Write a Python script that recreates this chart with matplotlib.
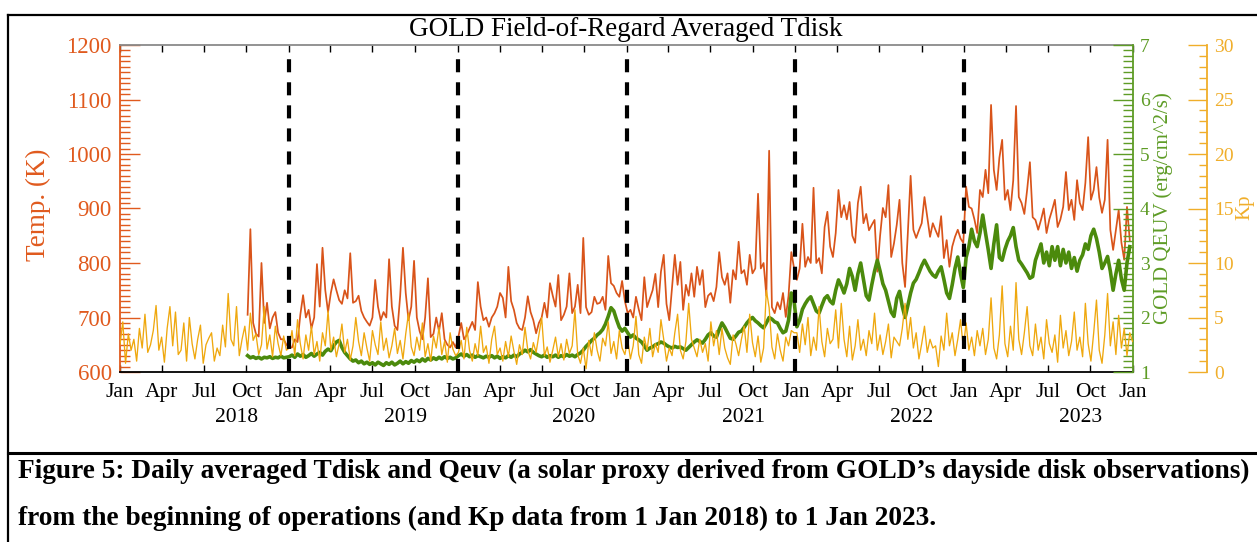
import numpy as np
import pandas as pd
import matplotlib
matplotlib.use("Agg")
import matplotlib.pyplot as plt
import matplotlib.dates as mdates
from matplotlib.ticker import MultipleLocator
from matplotlib.lines import Line2D
from matplotlib.transforms import blended_transform_factory

plt.rcParams['font.family'] = ['Liberation Serif', 'DejaVu Serif']
plt.rcParams['lines.scale_dashes'] = False

# ---------------- data (6-day sampling) ----------------
tdisk_start = "2018-10-04"
tdisk_2018 = [705, 862, 690, 670, 665, 800, 690, 727, 680, 700, 710, 672, 660, 660, 650]
tdisk_2019 = [645, 645, 660, 655, 705, 741, 700, 714, 680, 700, 798, 720, 828, 750, 710, 745, 770, 750, 732, 725,
              750, 735, 818, 727, 730, 740, 712, 700, 692, 685, 700, 769, 720, 695, 710, 700, 807, 720, 685, 677,
              740, 828, 745, 695, 720, 804, 700, 675, 660, 700, 772, 664, 670, 700, 675, 708, 660, 650, 645, 655, 645]
tdisk_2020 = [665, 690, 660, 668, 680, 692, 677, 765, 720, 695, 700, 683, 700, 708, 720, 745, 736, 700, 793, 730,
              714, 690, 680, 677, 700, 739, 710, 695, 671, 690, 700, 727, 700, 763, 740, 720, 778, 695, 705, 720,
              781, 708, 720, 760, 708, 846, 719, 705, 710, 738, 725, 727, 738, 714, 813, 763, 758, 745, 738, 767, 730]
tdisk_2021 = [708, 714, 700, 738, 715, 695, 774, 719, 735, 750, 780, 719, 784, 815, 725, 695, 756, 815, 760, 802,
              714, 760, 740, 781, 738, 793, 760, 787, 719, 740, 745, 730, 756, 820, 774, 760, 781, 727, 787, 770,
              839, 781, 787, 760, 815, 781, 790, 927, 790, 800, 740, 1006, 719, 708, 728, 715, 745, 701, 740, 820, 790]
tdisk_2022 = [769, 790, 872, 793, 811, 800, 938, 800, 809, 781, 866, 894, 830, 811, 855, 934, 884, 906, 880, 912,
              850, 837, 910, 940, 873, 890, 860, 870, 879, 784, 850, 901, 884, 943, 811, 836, 870, 916, 800, 756,
              855, 960, 861, 846, 860, 873, 921, 884, 848, 873, 860, 848, 886, 809, 842, 793, 830, 848, 861, 845, 837]
tdisk_2023 = [940, 903, 900, 880, 855, 934, 921, 971, 928, 1090, 971, 934, 993, 1026, 916, 934, 897, 952, 1088, 921,
              910, 890, 934, 985, 884, 879, 861, 879, 900, 855, 880, 897, 916, 866, 880, 903, 967, 897, 916, 879,
              952, 910, 897, 947, 1031, 916, 934, 976, 920, 892, 916, 1026, 861, 824, 860, 897, 837, 806, 903, 842]

qeuv_2018 = [1.30, 1.26, 1.28, 1.25, 1.27, 1.24, 1.27, 1.26, 1.28, 1.25, 1.27, 1.26, 1.29, 1.26, 1.27]
qeuv_2019 = [1.28, 1.31, 1.27, 1.33, 1.29, 1.32, 1.27, 1.30, 1.34, 1.29, 1.33, 1.36, 1.31, 1.38, 1.42, 1.39, 1.48, 1.55, 1.58, 1.45,
             1.36, 1.30, 1.24, 1.20, 1.22, 1.17, 1.20, 1.15, 1.18, 1.14, 1.17, 1.13, 1.18, 1.15, 1.12, 1.17, 1.14, 1.18, 1.13, 1.16,
             1.20, 1.15, 1.19, 1.16, 1.21, 1.18, 1.22, 1.19, 1.24, 1.20, 1.25, 1.22, 1.26, 1.23, 1.27, 1.24, 1.28, 1.25, 1.27, 1.24, 1.26]
qeuv_2020 = [1.30, 1.33, 1.29, 1.32, 1.28, 1.31, 1.27, 1.30, 1.28, 1.26, 1.29, 1.27, 1.30, 1.26, 1.29, 1.25, 1.28, 1.26, 1.30, 1.27,
             1.31, 1.28, 1.33, 1.36, 1.40, 1.37, 1.41, 1.36, 1.33, 1.30, 1.28, 1.31, 1.27, 1.30, 1.28, 1.31, 1.27, 1.30, 1.28, 1.32,
             1.29, 1.31, 1.28, 1.32, 1.35, 1.40, 1.47, 1.52, 1.58, 1.62, 1.68, 1.72, 1.78, 1.88, 2.02, 2.18, 2.12, 1.96, 1.82, 1.75, 1.80]
qeuv_2021 = [1.72, 1.64, 1.68, 1.62, 1.59, 1.55, 1.48, 1.40, 1.44, 1.46, 1.50, 1.52, 1.55, 1.53, 1.49, 1.46, 1.44, 1.47, 1.45, 1.46,
             1.43, 1.40, 1.45, 1.50, 1.55, 1.59, 1.56, 1.53, 1.60, 1.68, 1.72, 1.66, 1.64, 1.78, 1.90, 1.82, 1.72, 1.62, 1.60, 1.66,
             1.73, 1.75, 1.82, 1.90, 1.96, 2.00, 1.94, 1.90, 1.85, 1.81, 1.90, 2.00, 1.97, 1.92, 1.90, 1.80, 1.72, 1.75, 1.95, 2.45, 2.30]
qeuv_2022 = [1.83, 1.95, 2.15, 2.25, 2.33, 2.38, 2.25, 2.12, 2.08, 2.22, 2.35, 2.40, 2.30, 2.25, 2.50, 2.69, 2.58, 2.45, 2.62, 2.90,
             2.75, 2.50, 2.80, 3.00, 2.70, 2.40, 2.32, 2.60, 2.85, 3.05, 2.85, 2.62, 2.50, 2.30, 2.10, 2.02, 2.35, 2.48, 2.20, 2.00,
             2.22, 2.45, 2.63, 2.70, 2.82, 2.95, 3.05, 2.95, 2.85, 2.78, 2.74, 2.85, 2.93, 2.70, 2.45, 2.35, 2.60, 2.90, 3.11, 2.80, 2.55]
qeuv_2023 = [3.10, 3.30, 3.62, 3.40, 3.30, 3.55, 3.88, 3.55, 3.24, 2.90, 3.35, 3.70, 3.10, 3.05, 3.25, 3.40, 3.50, 3.65, 3.30, 3.05,
             2.98, 2.90, 2.82, 2.72, 2.75, 3.05, 3.20, 3.35, 3.00, 3.20, 2.95, 3.30, 3.05, 3.30, 2.95, 3.25, 3.00, 3.20, 2.90, 3.10,
             2.85, 3.05, 3.15, 3.35, 3.25, 3.50, 3.62, 3.45, 3.20, 2.90, 3.00, 3.12, 2.85, 2.50, 2.80, 3.05, 2.70, 2.50, 3.00, 3.30]

kp_start = "2018-01-01"
kp_2018 = [2.5, 4.6, 0.8, 3.5, 2.0, 3.0, 1.0, 4.0, 2.2, 5.3, 1.8, 2.5, 3.8, 6.1, 2.0, 3.2, 0.9, 4.0, 6.0, 2.4,
           5.5, 1.6, 2.0, 4.5, 1.0, 5.0, 2.6, 1.2, 3.0, 4.3, 0.8, 2.5, 3.1, 3.6, 1.0, 2.2, 1.5, 4.3, 2.3, 7.2,
           3.0, 2.4, 6.0, 1.5, 3.0, 4.2, 2.0, 5.4, 2.9, 3.5, 1.6, 2.5, 6.0, 2.1, 3.4, 1.4, 4.2, 2.6, 1.5, 3.3, 2.0]
kp_2019 = [2.2, 3.8, 1.5, 4.8, 2.6, 1.2, 3.4, 2.0, 4.2, 1.6, 2.8, 1.0, 3.6, 2.4, 5.6, 2.0, 3.2, 1.4, 2.6, 4.4,
           1.8, 3.0, 1.1, 2.4, 5.0, 2.8, 1.5, 3.6, 2.2, 1.0, 3.8, 2.5, 1.6, 4.6, 2.0, 3.1, 1.3, 2.4, 4.0, 1.7,
           2.9, 1.2, 3.5, 5.4, 2.3, 1.5, 3.2, 2.0, 4.5, 1.4, 2.6, 1.0, 3.3, 2.2, 4.1, 1.6, 2.8, 0.9, 3.6, 2.1, 1.5]
kp_2020 = [1.8, 2.9, 1.2, 4.1, 2.0, 1.0, 2.6, 1.5, 4.2, 1.8, 2.4, 0.8, 3.0, 4.2, 1.6, 2.2, 1.0, 2.8, 1.4, 3.3,
           1.9, 0.7, 2.5, 1.6, 4.1, 2.0, 1.2, 2.7, 1.8, 3.4, 5.0, 1.5, 2.3, 0.9, 2.0, 3.2, 1.4, 2.6, 1.1, 3.0,
           1.7, 2.4, 5.7, 1.6, 0.8, 2.2, 0.3, 2.9, 1.5, 3.6, 2.0, 1.0, 3.1, 2.4, 4.6, 1.7, 2.8, 1.2, 3.8, 2.2, 1.6]
kp_2021 = [3.0, 1.2, 2.4, 5.1, 1.6, 0.8, 3.2, 2.0, 4.0, 1.4, 2.6, 1.8, 4.8, 3.0, 1.0, 2.2, 1.5, 3.6, 5.3, 2.0,
           1.2, 2.8, 6.3, 3.0, 2.2, 1.4, 3.0, 1.8, 2.6, 1.0, 4.6, 2.4, 3.8, 1.6, 4.0, 2.2, 1.3, 0.7, 3.4, 2.6,
           1.5, 3.0, 4.2, 1.8, 5.3, 2.7, 1.4, 3.3, 0.9, 2.2, 7.5, 5.9, 2.3, 1.2, 3.5, 2.0, 1.0, 3.2, 2.4, 3.8, 3.6]
kp_2022 = [3.6, 1.8, 4.4, 2.5, 5.0, 1.5, 3.2, 2.0, 6.0, 2.8, 1.4, 4.0, 2.6, 3.0, 5.7, 2.2, 6.3, 3.0, 1.4, 4.2,
           1.1, 2.4, 4.8, 2.0, 3.0, 1.5, 3.8, 2.6, 5.4, 2.0, 3.4, 1.6, 2.8, 4.4, 1.3, 3.2, 2.8, 2.4, 4.0, 6.3,
           3.0, 5.0, 2.2, 3.6, 1.2, 2.6, 4.2, 1.8, 3.0, 2.2, 2.4, 0.5, 3.3, 2.0, 5.4, 2.4, 3.6, 1.5, 3.0, 4.8, 2.2]
kp_2023 = [4.5, 2.0, 3.2, 1.5, 3.8, 2.4, 4.0, 1.6, 3.0, 6.8, 2.2, 1.2, 3.4, 7.9, 2.6, 1.4, 4.2, 2.0, 8.2, 3.0,
           1.6, 3.6, 6.0, 2.4, 1.5, 4.4, 2.0, 3.2, 1.2, 4.8, 2.6, 1.8, 3.4, 0.9, 5.2, 2.2, 3.8, 1.5, 2.8, 5.5,
           2.0, 3.2, 1.4, 6.3, 2.6, 1.0, 3.6, 6.6, 2.0, 0.8, 3.4, 7.2, 2.4, 4.6, 1.6, 5.2, 2.2, 4.0, 1.5, 3.6, 2.8]

boundary_years = [2019, 2020, 2021, 2022, 2023]
year_labels = ["2018", "2019", "2020", "2021", "2022", "2023"]
title = "GOLD Field-of-Regard Averaged Tdisk"
caption1 = "Figure 5: Daily averaged Tdisk and Qeuv (a solar proxy derived from GOLD\u2019s dayside disk observations)"
caption2 = "from the beginning of operations (and Kp data from 1 Jan 2018) to 1 Jan 2023."

tdisk = np.array(tdisk_2018 + tdisk_2019 + tdisk_2020 + tdisk_2021 + tdisk_2022 + tdisk_2023, float)
qeuv = np.array(qeuv_2018 + qeuv_2019 + qeuv_2020 + qeuv_2021 + qeuv_2022 + qeuv_2023, float)
kp = np.array(kp_2018 + kp_2019 + kp_2020 + kp_2021 + kp_2022 + kp_2023, float)
t_dates = pd.date_range(tdisk_start, periods=len(tdisk), freq="6D")
k_dates = pd.date_range(kp_start, periods=len(kp), freq="6D")

# ---------------- styling ----------------
C_T = "#D9541A"
C_TA = "#E05A1E"
C_Q = "#4B8A0C"
C_QA = "#5E9C26"
C_K = "#EFA80E"
C_KA = "#F0AE2A"

W, H = 1257, 542
fig = plt.figure(figsize=(W / 100, H / 100), dpi=100)
L, R, T, B = 120, 1133, 45, 372
ax = fig.add_axes([L / W, 1 - B / H, (R - L) / W, (B - T) / H])
ax2 = ax.twinx()
ax3 = ax.twinx()

ax.plot(t_dates, tdisk, color=C_T, lw=1.25)
ax2.plot(t_dates, qeuv, color=C_Q, lw=2.6)
ax3.plot(k_dates, kp, color=C_K, lw=0.95)

ax.set_xlim(pd.Timestamp("2018-01-01"), pd.Timestamp("2024-01-01"))
ax.set_ylim(600, 1200)
ax2.set_ylim(1, 7)
ax3.set_ylim(0, 30)

for yr in boundary_years:
    ax3.axvline(pd.Timestamp(f"{yr}-01-01"), ymin=0, ymax=0.965, color="k", lw=3.0,
                dashes=(9.4, 7.2), zorder=5)

# x axis
ax.xaxis.set_major_locator(mdates.MonthLocator(bymonth=[1, 4, 7, 10]))
ax.xaxis.set_major_formatter(mdates.DateFormatter("%b"))
ax.tick_params(axis="x", which="major", direction="in", length=5, width=1.0, top=True,
               labelsize=15.5, pad=8, colors="k")
ax.spines["bottom"].set_linewidth(1.3)
ax.spines["top"].set_color("#8a8a8a")
ax.spines["top"].set_linewidth(1.3)
trans = blended_transform_factory(ax.transData, ax.transAxes)
for lab in year_labels:
    xpos = pd.Timestamp(f"{lab}-01-01") + pd.Timedelta(days=252)
    ax.text(xpos, -0.138, lab, transform=trans, ha="center", va="center", fontsize=15.5)

# left axis (Temp)
ax.yaxis.set_major_locator(MultipleLocator(100))
ax.yaxis.set_minor_locator(MultipleLocator(10))
ax.tick_params(axis="y", which="major", direction="in", length=14.5, width=1.0, color=C_TA,
               labelcolor=C_TA, labelsize=16.5, pad=6, right=False)
ax.tick_params(axis="y", which="minor", direction="in", length=7.5, width=1.0, color=C_TA, right=False)
ax.spines["left"].set_color(C_TA)
ax.spines["left"].set_linewidth(1.3)
ax.spines["right"].set_visible(False)

# QEUV axis
for s in ["left", "top", "bottom"]:
    ax2.spines[s].set_visible(False)
ax2.spines["right"].set_color(C_QA)
ax2.spines["right"].set_linewidth(1.3)
ax2.yaxis.set_major_locator(MultipleLocator(1))
ax2.yaxis.set_minor_locator(MultipleLocator(0.1))
ax2.tick_params(axis="y", which="major", direction="in", length=14.5, width=1.0, color=C_QA,
                labelcolor=C_QA, labelsize=14, pad=5)
ax2.tick_params(axis="y", which="minor", direction="in", length=7.5, width=1.0, color=C_QA)

# Kp axis
for s in ["left", "top", "bottom"]:
    ax3.spines[s].set_visible(False)
ax3.spines["right"].set_position(("axes", (1207 - L) / (R - L)))
ax3.spines["right"].set_color(C_KA)
ax3.spines["right"].set_linewidth(1.3)
ax3.yaxis.set_major_locator(MultipleLocator(5))
ax3.yaxis.set_minor_locator(MultipleLocator(1))
ax3.tick_params(axis="y", which="major", direction="in", length=13.5, width=1.0, color=C_KA,
                labelcolor=C_KA, labelsize=14, pad=5)
ax3.tick_params(axis="y", which="minor", direction="in", length=6, width=1.0, color=C_KA)

# axis titles
fig.text(38 / W, 1 - 205 / H, "Temp. (K)", rotation=90, ha="center", va="center", color=C_TA, fontsize=19.5)
fig.text(1163 / W, 1 - 208 / H, "GOLD QEUV (erg/cm^2/s)", rotation=90, ha="center", va="center",
         color=C_QA, fontsize=15)
fig.text(1245 / W, 1 - 207 / H, "Kp", rotation=90, ha="center", va="center", color=C_KA, fontsize=15)
fig.text(626 / W, 1 - 30 / H, title, ha="center", va="center", fontsize=19.5)

# frame lines
fig.add_artist(Line2D([8 / W, 8 / W], [0, 1 - 15 / H], transform=fig.transFigure, color="k", lw=1.6))
fig.add_artist(Line2D([8 / W, 1], [1 - 15 / H, 1 - 15 / H], transform=fig.transFigure, color="k", lw=1.6))
fig.add_artist(Line2D([8 / W, 1], [1 - 453 / H, 1 - 453 / H], transform=fig.transFigure, color="k", lw=2.2))

# caption
c1 = fig.text(18 / W, 1 - 471 / H, caption1, ha="left", va="center", fontsize=17, fontweight="bold")
c2 = fig.text(18 / W, 1 - 518 / H, caption2, ha="left", va="center", fontsize=17, fontweight="bold")
fig.canvas.draw()
bb = c1.get_window_extent(renderer=fig.canvas.get_renderer())
fs = 17 * (1237 / bb.width)
c1.set_fontsize(fs)
c2.set_fontsize(fs)

fig.savefig("out.png", dpi=100)
